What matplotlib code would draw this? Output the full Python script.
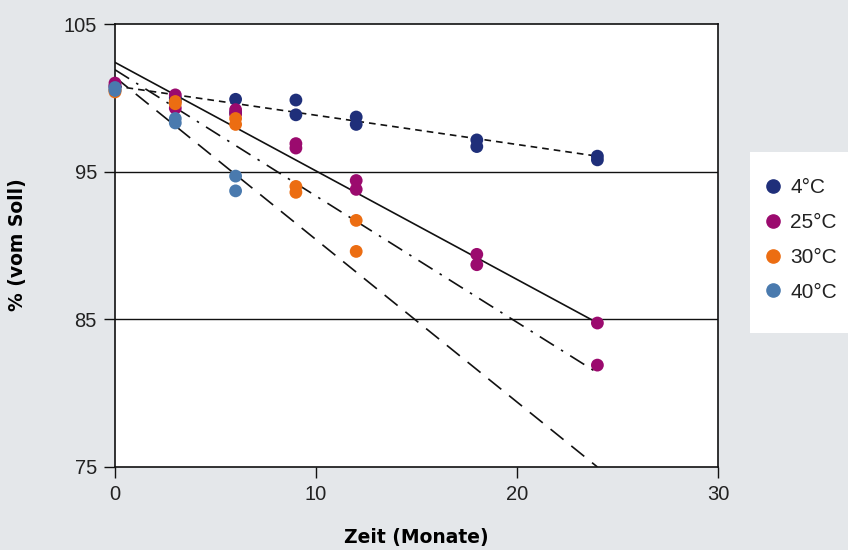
import numpy as np
import matplotlib
matplotlib.use('Agg')
import matplotlib.pyplot as plt
from matplotlib.lines import Line2D
from matplotlib.patches import Rectangle

plt.rcParams['font.family'] = ['Liberation Sans', 'DejaVu Sans']

# Messwerte (Zeit in Monaten, Gehalt in % vom Soll)
labels = ['4°C', '25°C', '30°C', '40°C']
colors = ['#1f2f7a', '#9b0a6e', '#ec6d12', '#4a7aae']

t_4 = [0, 0, 3, 3, 6, 6, 9, 9, 12, 12, 18, 18, 24, 24]
y_4 = [100.8, 100.6, 100.0, 99.8, 99.9, 99.0, 99.85, 98.85, 98.7, 98.2, 97.15, 96.7, 96.05, 95.8]

t_25 = [0, 0, 3, 3, 6, 6, 9, 9, 12, 12, 18, 18, 24, 24]
y_25 = [101.0, 100.8, 100.2, 99.3, 99.2, 98.9, 96.9, 96.6, 94.4, 93.8, 89.4, 88.7, 84.75, 81.9]

t_30 = [0, 0, 3, 3, 6, 6, 9, 9, 12, 12]
y_30 = [100.5, 100.4, 99.75, 99.6, 98.6, 98.2, 94.0, 93.6, 91.7, 89.6]

t_40 = [0, 0, 3, 3, 6, 6]
y_40 = [100.7, 100.5, 98.6, 98.3, 94.7, 93.7]

# Trendlinien: Achsenabschnitt, Steigung, Endpunkt
trend_b = [100.8, 102.4, 101.9, 101.4]
trend_m = [-0.198, -0.735, -0.855, -1.1]
trend_end = [24, 24, 24, 24]
trend_ls = [(0, (4, 3)), '-', (0, (10, 5, 1.5, 5)), (0, (10, 6))]

xs = [t_4, t_25, t_30, t_40]
ys = [y_4, y_25, y_30, y_40]

bg = '#e4e7ea'
fig = plt.figure(figsize=(8.48, 5.5), dpi=100, facecolor=bg)
ax = fig.add_axes([115/848, 1-467/550, (718-115)/848, (467-24)/550])
ax.set_facecolor('white')

for i in range(4):
    xx = np.array([0, trend_end[i]])
    ax.plot(xx, trend_b[i] + trend_m[i]*xx, color='#111111', lw=1.2, ls=trend_ls[i], zorder=2)

for i in range(4):
    ax.scatter(xs[i], ys[i], s=85, color=colors[i], edgecolors='none', zorder=3, clip_on=False)

ax.set_xlim(0, 30)
ax.set_ylim(75, 105)
ax.set_xticks([0, 10, 20, 30])
ax.set_yticks([75, 85, 95, 105])
for yv in [85, 95]:
    ax.axhline(yv, color='#111111', lw=1.0, zorder=1)
for s in ax.spines.values():
    s.set_color('#111111')
    s.set_linewidth(1.2)
ax.tick_params(direction='out', length=8, width=1.0, color='#111111',
               labelsize=14.5, labelcolor='#222222', pad=5)

# Achsentitel (breitere, fette Schrift)
ax.set_xlabel('Zeit (Monate)', fontsize=13.5, fontweight='bold', family='DejaVu Sans', va='center')
ax.set_ylabel('% (vom Soll)', fontsize=13.5, fontweight='bold', family='DejaVu Sans', va='center')
ax.xaxis.set_label_coords(0.5, -0.160)
ax.yaxis.set_label_coords(-0.161, 0.501)

# weisser Legendenkasten
fig.patches.append(Rectangle((750/848, 1-333/550), 98/848, 181/550,
                             transform=fig.transFigure, facecolor='white',
                             edgecolor='none', zorder=0))
handles = [Line2D([], [], marker='o', ls='none', color=c, markersize=9.5) for c in colors]
leg = fig.legend(handles, labels, loc='center left', bbox_to_anchor=(762/848, 1-240/550),
                 frameon=False, fontsize=15, handletextpad=0.25,
                 labelspacing=0.76, borderpad=0, handlelength=1.1, borderaxespad=0)
for t in leg.get_texts():
    t.set_color('#222222')

fig.savefig('out.png', dpi=100, facecolor=bg)
